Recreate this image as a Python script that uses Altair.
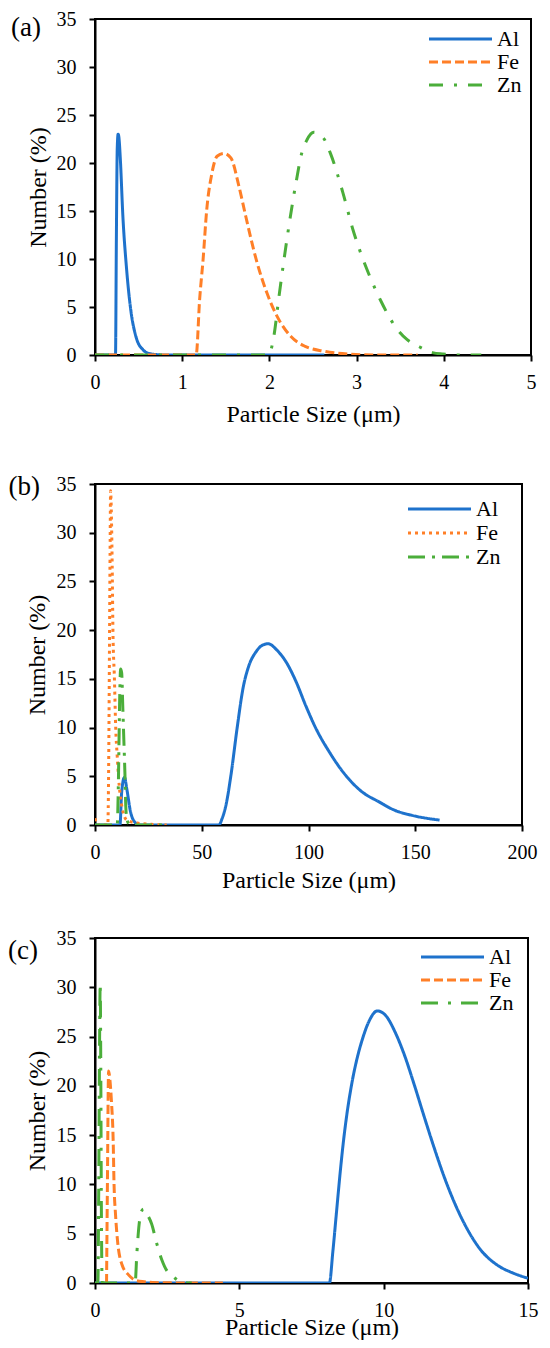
import altair as alt
import pandas as pd

FONT = "Liberation Serif"
METALS = ["Al", "Fe", "Zn"]
COLORS = ["#1E72CC", "#FF7F27", "#4BAE3A"]

# ---------------- Panel (a) ----------------
A_AL_X = [0, 0.1, 0.2, 0.235, 0.245, 0.255, 0.265, 0.275, 0.29, 0.32, 0.36, 0.41, 0.47, 0.55, 0.63, 0.8, 1.2, 1.6, 2.0, 2.4, 2.63]
A_AL_Y = [0, 0, 0, 0, 12, 21.5, 23.0, 22.6, 20.5, 14.4, 9.2, 4.7, 1.9, 0.55, 0.14, 0, 0, 0, 0, 0, 0]
A_FE_X = [0, 0.5, 1.0, 1.16, 1.2, 1.24, 1.28, 1.34, 1.40, 1.48, 1.56, 1.65, 1.73, 1.85, 1.97, 2.09, 2.25, 2.41, 2.62, 2.9, 3.2, 3.7]
A_FE_Y = [0, 0, 0, 0, 5.8, 10, 15, 18.9, 20.7, 21.0, 20.5, 17.6, 14.4, 9.9, 6.5, 4.0, 1.9, 0.9, 0.4, 0.1, 0, 0]
A_ZN_X = [0, 0.5, 1.0, 1.5, 1.99, 2.05, 2.11, 2.17, 2.24, 2.31, 2.37, 2.43, 2.51, 2.62, 2.70, 2.84, 2.96, 3.06, 3.16, 3.28, 3.44, 3.58, 3.71, 3.87, 3.99, 4.2, 4.43]
A_ZN_Y = [0, 0, 0, 0, 0, 1.9, 6.1, 10.1, 14.4, 18.2, 21.0, 22.4, 23.2, 22.6, 21.0, 17.0, 13.0, 10.3, 8.0, 5.6, 3.0, 1.6, 0.9, 0.25, 0.1, 0, 0]

# ---------------- Panel (b) ----------------
B_AL_X = [0, 5, 10, 11.7, 12.5, 13.8, 14.9, 16.6, 19.0, 20.6, 30, 40, 50, 58, 59.6, 61.5, 63.6, 66.6, 69.3, 72.0, 75.5, 78.0, 81.1, 85.0, 89.6, 94.2, 98.8, 103.5, 109.6, 117.4, 125.1, 132.8, 140.5, 148.3, 161.4]
B_AL_Y = [0, 0, 0, 0, 3.4, 4.9, 3.7, 1.4, 0.2, 0, 0, 0, 0, 0, 0.7, 2.2, 5.0, 10.0, 14.0, 16.3, 17.8, 18.4, 18.6, 18.0, 16.7, 14.7, 12.2, 9.9, 7.55, 5.1, 3.4, 2.4, 1.5, 1.0, 0.5]
B_FE_X = [0, 1, 3, 6.0, 6.5, 6.8, 7.1, 7.3, 7.6, 8.0, 8.4, 9.1, 9.7, 10.4, 11.0, 12.5, 14.9, 19.8, 26.3, 33.6]
B_FE_Y = [0.7, 0, 0, 0, 8.8, 19, 29.2, 34.3, 32.6, 27.5, 20, 15, 10, 7.1, 5, 2, 0.5, 0.2, 0.07, 0]
B_ZN_X = [0, 5, 10.4, 10.9, 11.2, 11.5, 12.0, 12.5, 13.0, 13.5, 14.0, 14.4, 14.9, 15.9, 17.4, 25, 33.6]
B_ZN_Y = [0, 0, 0, 3.7, 7.8, 12.2, 16.0, 15.6, 12.2, 8.8, 5.4, 2.0, 0.7, 0.1, 0, 0, 0]

# ---------------- Panel (c) ----------------
C_AL_X = [0, 2, 4, 6, 7.7, 8.12, 8.24, 8.36, 8.48, 8.6, 8.72, 8.9, 9.08, 9.26, 9.5, 9.78, 10.05, 10.42, 10.71, 11.05, 11.39, 11.74, 12.08, 12.43, 12.89, 13.35, 13.92, 14.49, 15.0]
C_AL_Y = [0, 0, 0, 0, 0, 0, 3.2, 7.0, 10.8, 14.2, 17.0, 20.3, 22.8, 24.7, 26.6, 27.6, 27.2, 25.3, 23.2, 20.2, 17.0, 13.8, 10.9, 8.3, 5.5, 3.4, 1.85, 1.0, 0.48]
C_FE_X = [0.40, 0.43, 0.47, 0.52, 0.57, 0.63, 0.66, 0.71, 0.78, 0.93, 1.17, 1.41, 1.7, 2.0, 2.5, 3.0, 4.43]
C_FE_Y = [0, 10, 21.5, 20.5, 18.4, 14.4, 10, 7, 4.3, 1.9, 0.8, 0.27, 0.12, 0.05, 0.02, 0, 0]
C_ZN_X = [0, 0.1, 0.13, 0.16, 0.18, 0.2, 0.22, 0.25, 0.5, 1.0, 1.39, 1.45, 1.53, 1.6, 1.68, 1.8, 1.96, 2.14, 2.32, 2.5, 2.62, 2.86, 3.0, 3.35]
C_ZN_Y = [0, 0, 10, 25, 30.4, 22, 8, 0, 0, 0, 0, 3, 6, 7.2, 7.5, 7.0, 6.0, 4.0, 2.3, 1.2, 0.9, 0.3, 0.1, 0]

Y_TICKS = [0, 5, 10, 15, 20, 25, 30, 35]


def make_df(series):
    rows = []
    for metal, xs, ys in series:
        for i, (x, y) in enumerate(zip(xs, ys)):
            rows.append({"metal": metal, "size": x, "num": y, "ord": i})
    return pd.DataFrame(rows)


def panel(df, label, xmax, xticks, w, h, dashes, lx, ly, rowpad,
          xtitle_pad, ytitle_pad, label_x, label_y):
    leg = dict(orient="none", legendX=lx, legendY=ly, title=None,
               symbolType="M-3,0L3,0", symbolSize=441, symbolOffset=19.5,
               symbolStrokeWidth=3, rowPadding=rowpad,
               labelFont=FONT, labelFontSize=22, labelColor="black",
               labelOffset=24.5, padding=0)
    lines = alt.Chart(df).mark_line(strokeWidth=3, clip=True, interpolate="monotone").encode(
        x=alt.X("size:Q",
                scale=alt.Scale(domain=[0, xmax], nice=False),
                axis=alt.Axis(values=xticks, title="Particle Size (μm)",
                              titlePadding=xtitle_pad, titleBaseline="alphabetic",
                              labelFlush=False, labelPadding=11)),
        y=alt.Y("num:Q",
                scale=alt.Scale(domain=[0, 35], nice=False),
                axis=alt.Axis(values=Y_TICKS, title="Number (%)",
                              titlePadding=ytitle_pad, titleBaseline="alphabetic",
                              labelPadding=13)),
        color=alt.Color("metal:N", scale=alt.Scale(domain=METALS, range=COLORS),
                        legend=alt.Legend(**leg)),
        strokeDash=alt.StrokeDash("metal:N", scale=alt.Scale(domain=METALS, range=dashes),
                                  legend=alt.Legend(**leg)),
        order="ord:Q",
    )
    txt = alt.Chart(pd.DataFrame({"t": [label]})).mark_text(
        align="left", baseline="middle", font=FONT, fontSize=27, color="black"
    ).encode(text="t:N", x=alt.value(label_x), y=alt.value(label_y))
    return alt.layer(lines, txt).properties(width=w, height=h)


df_a = make_df([("Al", A_AL_X, A_AL_Y), ("Fe", A_FE_X, A_FE_Y), ("Zn", A_ZN_X, A_ZN_Y)])
df_b = make_df([("Al", B_AL_X, B_AL_Y), ("Fe", B_FE_X, B_FE_Y), ("Zn", B_ZN_X, B_ZN_Y)])
df_c = make_df([("Al", C_AL_X, C_AL_Y), ("Fe", C_FE_X, C_FE_Y), ("Zn", C_ZN_X, C_ZN_Y)])

pa = panel(df_a, "(a)", 5, [0, 1, 2, 3, 4, 5], 436, 336,
           [[1, 0], [9, 4], [14, 11, 3, 11]], 334, 8, 0,
           29, 11, -84, 9)
pb = panel(df_b, "(b)", 200, [0, 50, 100, 150, 200], 427, 341,
           [[1, 0], [3, 4], [17, 7, 3, 7]], 313, 13, 1,
           25, 12, -86.5, 3)
pc = panel(df_c, "(c)", 15, [0, 5, 10, 15], 433, 345,
           [[1, 0], [9, 4], [17, 10, 3, 10]], 326, 7, 0,
           14, 12, -87, 13)

inner = alt.vconcat(pa, pb, spacing=45).resolve_scale(
    color="independent", strokeDash="independent"
).resolve_legend(color="independent", strokeDash="independent")

chart = alt.vconcat(inner, pc, spacing=34).resolve_scale(
    color="independent", strokeDash="independent"
).resolve_legend(color="independent", strokeDash="independent").properties(
    autosize=alt.AutoSizeParams(type="none"),
    padding={"left": 87, "top": 11, "right": 447, "bottom": 1321},
).configure_axis(
    labelFont=FONT, labelFontSize=20, labelColor="black",
    titleFont=FONT, titleFontSize=24, titleFontWeight="normal", titleColor="black",
    tickSize=6, tickWidth=2, tickColor="black",
    domainColor="black", domainWidth=2, grid=False,
).configure_view(stroke="black", strokeWidth=2)

chart.save("out.html", embed_options={"renderer": "svg", "actions": False})
